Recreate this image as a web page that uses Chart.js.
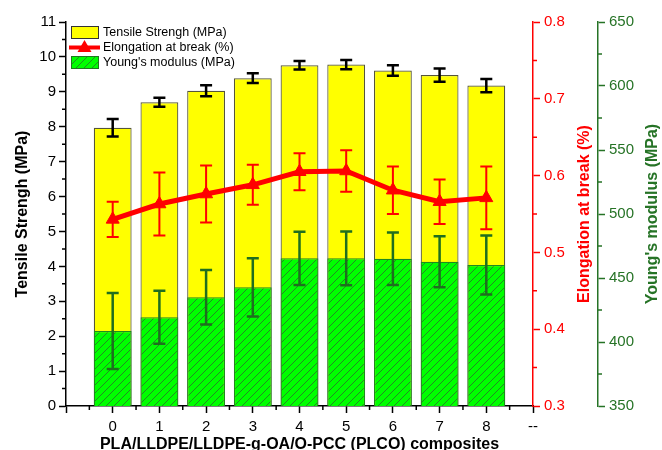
<!DOCTYPE html>
<html>
<head>
<meta charset="utf-8">
<script src="https://cdn.jsdelivr.net/npm/chart.js@4/dist/chart.umd.min.js"></script>
<style>
  html, body { margin: 0; padding: 0; background: #fff; }
  #wrap { width: 662px; height: 450px; position: relative; }
</style>
</head>
<body>
<div id="wrap"><canvas id="chart" width="662" height="450"></canvas></div>
<script>
// composites 0..8, plus empty slot at -1 and "--" at 9
const categories = [0, 1, 2, 3, 4, 5, 6, 7, 8];
const xTickLabels = ['', '0', '1', '2', '3', '4', '5', '6', '7', '8', '--'];

const tensile = [7.97, 8.70, 9.03, 9.39, 9.76, 9.78, 9.61, 9.48, 9.18];
const tensileErr = [0.25, 0.13, 0.16, 0.14, 0.12, 0.13, 0.15, 0.19, 0.19];

const elongation = [0.543, 0.563, 0.576, 0.588, 0.605, 0.606, 0.581, 0.566, 0.571];
const elongationErr = [0.023, 0.041, 0.037, 0.026, 0.024, 0.027, 0.031, 0.029, 0.041];

const youngs = [408.6, 419.3, 434.9, 442.7, 465.4, 465.4, 465.0, 462.7, 460.2];
const youngsErr = [29.7, 20.7, 21.3, 22.7, 20.8, 21.0, 20.5, 20.0, 23.0];

const FONT = "'Liberation Sans', Arial, sans-serif";
const RED = '#ff0000';
const DKGREEN = '#267326';

Chart.defaults.font.family = FONT;
Chart.defaults.font.size = 15;
Chart.defaults.color = '#000';

// diagonal hatch for the Young's modulus bars
function makeHatch() {
  const c = document.createElement('canvas');
  c.width = 8; c.height = 8;
  const g = c.getContext('2d');
  g.fillStyle = '#00ff00';
  g.fillRect(0, 0, 8, 8);
  g.strokeStyle = '#2b6e2b';
  g.lineWidth = 0.8;
  g.beginPath();
  g.moveTo(-1, 9); g.lineTo(9, -1);
  g.moveTo(-1, 1); g.lineTo(1, -1);
  g.moveTo(7, 9); g.lineTo(9, 7);
  g.stroke();
  return g.createPattern(c, 'repeat');
}
const hatch = makeHatch();

const pts = arr => categories.map((c, i) => ({ x: c, y: arr[i] }));

// error bars drawn with the dataset's own scales
function drawErrors(chart, idx) {
  const ds = chart.data.datasets[idx];
  if (!ds.errors) return;
  const meta = chart.getDatasetMeta(idx);
  const ys = chart.scales[meta.yAxisID];
  const ctx = chart.ctx;
  ctx.save();
  ctx.strokeStyle = ds.errorColor;
  ctx.lineWidth = ds.errorWidth;
  meta.data.forEach((el, i) => {
    const v = ds.data[i].y, e = ds.errors[i];
    const x = el.x;
    const yt = ys.getPixelForValue(v + e);
    const yb = ys.getPixelForValue(v - e);
    ctx.beginPath();
    ctx.moveTo(x, yt); ctx.lineTo(x, yb);
    ctx.moveTo(x - 6, yt); ctx.lineTo(x + 6, yt);
    ctx.moveTo(x - 6, yb); ctx.lineTo(x + 6, yb);
    ctx.stroke();
  });
  ctx.restore();
}

const errorPlugin = {
  id: 'errorBars',
  beforeDatasetDraw(chart, args) {
    if (chart.data.datasets[args.index].type === 'line') drawErrors(chart, args.index);
  },
  afterDatasetDraw(chart, args) {
    if (chart.data.datasets[args.index].type !== 'line') drawErrors(chart, args.index);
  }
};

const decorPlugin = {
  id: 'decor',
  afterDraw(chart) {
    const ctx = chart.ctx;
    const { x, y, yEl, yYM } = chart.scales;
    ctx.save();

    // minor ticks
    ctx.lineWidth = 1.5;
    ctx.strokeStyle = '#000';
    ctx.beginPath();
    for (let v = 0.5; v < 11; v += 1) {
      const p = y.getPixelForValue(v);
      ctx.moveTo(y.right - 4, p); ctx.lineTo(y.right, p);
    }
    for (let v = -0.5; v < 9; v += 1) {
      const p = x.getPixelForValue(v);
      ctx.moveTo(p, x.top); ctx.lineTo(p, x.top + 4);
    }
    ctx.stroke();
    ctx.strokeStyle = RED;
    ctx.beginPath();
    for (let v = 0.35; v < 0.8; v += 0.1) {
      const p = yEl.getPixelForValue(v);
      ctx.moveTo(yEl.left, p); ctx.lineTo(yEl.left + 4, p);
    }
    ctx.stroke();
    ctx.strokeStyle = DKGREEN;
    ctx.beginPath();
    for (let v = 375; v < 650; v += 50) {
      const p = yYM.getPixelForValue(v);
      ctx.moveTo(yYM.left, p); ctx.lineTo(yYM.left + 4, p);
    }
    ctx.stroke();

    // axis titles
    const area = chart.chartArea;
    const midY = (area.top + area.bottom) / 2;
    ctx.font = 'bold 16px ' + FONT;
    ctx.textAlign = 'center';
    ctx.textBaseline = 'middle';
    const vtitle = (txt, cx, color) => {
      ctx.save();
      ctx.translate(cx, midY);
      ctx.rotate(-Math.PI / 2);
      ctx.fillStyle = color;
      ctx.fillText(txt, 0, 0);
      ctx.restore();
    };
    vtitle('Tensile Strengh (MPa)', 23, '#000');
    vtitle('Elongation at break (%)', 585, RED);
    vtitle("Young's modulus (MPa)", 653, DKGREEN);
    ctx.fillStyle = '#000';
    ctx.textBaseline = 'alphabetic';
    ctx.fillText('PLA/LLDPE/LLDPE-g-OA/O-PCC (PLCO) composites', (area.left + area.right) / 2, 448.5);

    // legend
    ctx.font = '12.5px ' + FONT;
    ctx.textAlign = 'left';
    ctx.textBaseline = 'middle';
    const lx = 71, tx = 103;
    ctx.lineWidth = 1;
    ctx.fillStyle = '#ffff00';
    ctx.strokeStyle = '#333';
    ctx.fillRect(lx, 26, 27, 12);
    ctx.strokeRect(lx + 0.5, 26.5, 27, 12);
    ctx.fillStyle = hatch;
    ctx.fillRect(lx, 56, 27, 12);
    ctx.strokeStyle = '#1f7a1f';
    ctx.strokeRect(lx + 0.5, 56.5, 27, 12);
    ctx.strokeStyle = RED;
    ctx.lineWidth = 4;
    ctx.beginPath();
    ctx.moveTo(lx - 2, 47.5); ctx.lineTo(lx + 29, 47.5);
    ctx.stroke();
    ctx.fillStyle = RED;
    ctx.beginPath();
    ctx.moveTo(lx + 13.5, 40); ctx.lineTo(lx + 20.5, 52); ctx.lineTo(lx + 6.5, 52);
    ctx.closePath(); ctx.fill();
    ctx.fillStyle = '#000';
    ctx.fillText('Tensile Strengh (MPa)', tx, 32.5);
    ctx.fillText('Elongation at break (%)', tx, 47.5);
    ctx.fillText("Young's modulus (MPa)", tx, 62.5);

    ctx.restore();
  }
};

new Chart(document.getElementById('chart'), {
  type: 'bar',
  data: {
    datasets: [
      {
        type: 'line',
        label: 'Elongation at break (%)',
        data: pts(elongation),
        yAxisID: 'yEl',
        borderColor: RED,
        backgroundColor: RED,
        borderWidth: 5,
        pointStyle: 'triangle',
        pointRadius: 7.5,
        pointBorderWidth: 1,
        tension: 0,
        order: 0,
        errors: elongationErr,
        errorColor: RED,
        errorWidth: 2
      },
      {
        label: "Young's modulus (MPa)",
        data: pts(youngs),
        yAxisID: 'yYM',
        backgroundColor: hatch,
        borderColor: '#1f8a1f',
        borderWidth: 1.2,
        order: 1,
        errors: youngsErr,
        errorColor: '#1f6e1f',
        errorWidth: 2.5
      },
      {
        label: 'Tensile Strengh (MPa)',
        data: pts(tensile),
        yAxisID: 'y',
        backgroundColor: '#ffff00',
        borderColor: '#55553a',
        borderWidth: 1.2,
        order: 2,
        errors: tensileErr,
        errorColor: '#000',
        errorWidth: 2.5
      }
    ]
  },
  options: {
    responsive: false,
    animation: false,
    maintainAspectRatio: false,
    layout: { padding: { top: 22, left: 0, right: 0, bottom: 0 } },
    datasets: {
      bar: { grouped: false, barPercentage: 0.81, categoryPercentage: 1 }
    },
    plugins: {
      legend: { display: false },
      tooltip: { enabled: false }
    },
    scales: {
      x: {
        type: 'linear',
        offset: false,
        min: -1,
        max: 9,
        afterFit: s => { s.height = 44; },
        border: { color: '#000', width: 1.5 },
        grid: { offset: false, drawOnChartArea: false, tickLength: 7, tickColor: '#000', tickWidth: 1.5 },
        ticks: {
          stepSize: 1,
          padding: 5,
          maxRotation: 0,
          autoSkip: false,
          callback: v => xTickLabels[v + 1]
        }
      },
      y: {
        position: 'left',
        min: 0,
        max: 11,
        afterFit: s => { s.width = 66; },
        border: { color: '#000', width: 1.5 },
        grid: { drawOnChartArea: false, tickLength: 7, tickColor: '#000', tickWidth: 1.5 },
        ticks: { stepSize: 1, padding: 3 }
      },
      yEl: {
        position: 'right',
        min: 0.3,
        max: 0.8,
        afterFit: s => { s.width = 65; },
        border: { color: RED, width: 1.5 },
        grid: { drawOnChartArea: false, tickLength: 7, tickColor: RED, tickWidth: 1.5 },
        ticks: { stepSize: 0.1, padding: 4, color: RED, callback: v => v.toFixed(1) }
      },
      yYM: {
        position: 'right',
        min: 350,
        max: 650,
        afterFit: s => { s.width = 64; },
        border: { color: DKGREEN, width: 1.5 },
        grid: { drawOnChartArea: false, tickLength: 7, tickColor: DKGREEN, tickWidth: 1.5 },
        ticks: { stepSize: 50, padding: 4, color: DKGREEN }
      }
    }
  },
  plugins: [errorPlugin, decorPlugin]
});
</script>
</body>
</html>
